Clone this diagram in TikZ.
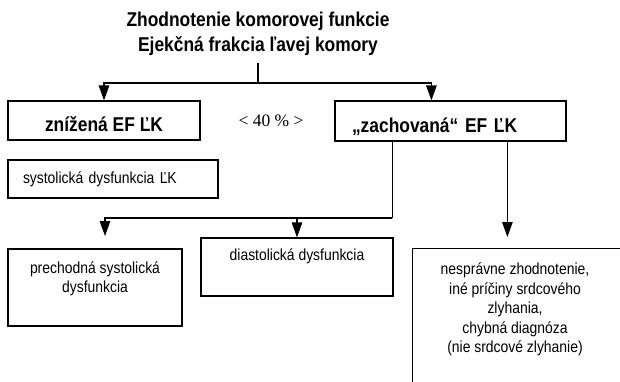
\documentclass[tikz,border=0pt]{standalone}
\usepackage{fontspec}
\setmainfont{Liberation Sans}[FakeStretch=0.87]
\newfontfamily\numfont{Liberation Serif}
\usetikzlibrary{arrows.meta,calc}
\begin{document}
\begin{tikzpicture}[x=1pt,y=-1pt,
  every node/.style={inner sep=0pt, text=black},
  conn/.style={line width=1.2pt},
  arr/.style={conn, -{Triangle[length=15pt,width=10.5pt]}},
  box/.style={draw, line width=1.2pt},
  headtext/.style={font=\fontsize{20}{25}\selectfont\bfseries, align=center},
  bigtext/.style={font=\fontsize{20}{24}\selectfont\bfseries, text height=22pt, text depth=0pt},
  plaintext/.style={font=\fontsize{16}{19.5}\selectfont, align=center}]
\useasboundingbox (0,0) rectangle (620,381);
\fill[white] (0,0) rectangle (620,381);
\clip (0,0) rectangle (620,381);

% heading
\node[headtext] (title) at (258,34) {Zhodnotenie komorovej funkcie\\Ejekčná frakcia ľavej komory};
\coordinate (tbase) at (258,63);
\coordinate (split) at (258,83);

% first level: reduced / preserved ejection fraction
\node[box, bigtext, minimum width=192pt, minimum height=39pt] (low) at (104,120.5) {znížená EF ĽK};
\node[font=\numfont\fontsize{17.5}{20}\selectfont] (cut) at (271,121) {< 40 \% >};
\node[box, bigtext, text width=197pt, align=left, inner xsep=17pt, minimum height=40pt] (keep) at (450.5,121) {„zachovaná“ EF ĽK};
\node[box, plaintext, text width=180pt, align=left, inner xsep=15pt, minimum height=38pt] (sys) at (113,179) {systolická dysfunkcia ĽK};

% second level
\node[box, minimum width=174pt, minimum height=77pt] (trans) at (95,287.5) {};
\node[plaintext, anchor=north] (transtxt) at ($(trans.north)+(0,13)$) {prechodná systolická\\dysfunkcia};
\node[box, minimum width=192pt, minimum height=58pt] (dia) at (297,267) {};
\node[plaintext, anchor=north] (diatxt) at ($(dia.north)+(0,11)$) {diastolická dysfunkcia};
\node[box, anchor=north west, minimum width=300pt, minimum height=200pt] (other) at (412,248) {};
\node[plaintext, anchor=north] (othertxt) at ($(other.north west)+(103,15)$) {nesprávne zhodnotenie,\\iné príčiny srdcového\\zlyhania,\\chybná diagnóza\\(nie srdcové zlyhanie)};

% connectors
\coordinate (keepin) at ($(keep.north west)+(97,0)$);
\coordinate (keepa) at ($(keep.south west)+(58,0)$);
\coordinate (keepb) at ($(keep.south west)+(173,0)$);
\coordinate (fork) at (keepa |- 0,218);
\coordinate (transin) at (105,236);
\coordinate (otherin) at (keepb |- 0,237);

\draw[conn] (tbase) -- (split);
\draw[arr] (split) -| (low.north);
\draw[arr] (split) -| (keepin);
\draw[conn] (keepa) -- (fork);
\draw[arr] (fork) -| (transin);
\draw[arr] (fork -| dia.north) -- (dia.north);
\draw[arr] (keepb) -- (otherin);
\end{tikzpicture}
\end{document}
